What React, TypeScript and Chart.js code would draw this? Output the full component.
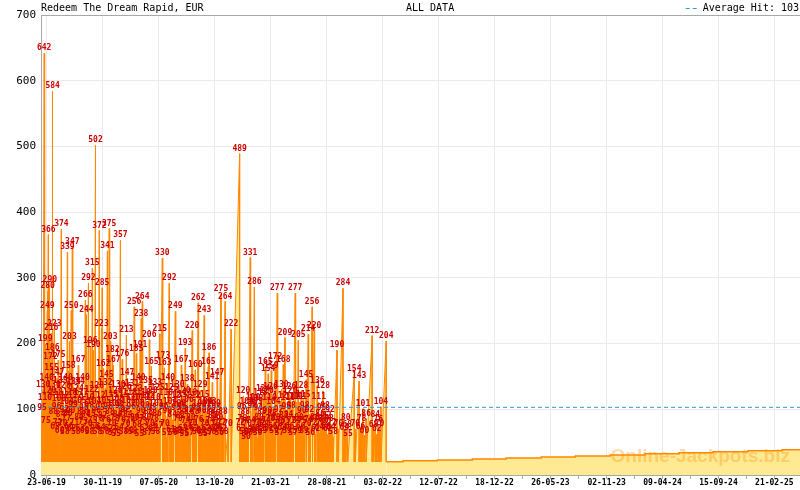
import React, { useEffect, useRef } from "react";
import { Chart, registerables } from "chart.js";

Chart.register(...registerables);

const title = "Redeem The Dream Rapid, EUR";
const period = "ALL DATA";
const averageHit = 103;
const seedValue = 20;

const tickLabels = [
  "23-06-19", "30-11-19", "07-05-20", "13-10-20", "21-03-21", "28-08-21", "03-02-22",
  "12-07-22", "18-12-22", "26-05-23", "02-11-23", "09-04-24", "15-09-24", "21-02-25",
];

// [days since 23-06-19, hit in EUR]
const hits2019: [number, number][] = [
  [-13, 95], [-10, 130], [-7, 642], [-5, 110], [-4, 199], [-2, 75], [0, 140], [2, 249], [3, 280], [5, 366],
  [7, 120], [9, 290], [11, 172], [13, 216], [14, 155], [16, 186], [17, 584], [19, 88], [20, 130], [22, 223],
  [24, 65], [26, 118], [28, 96], [30, 147], [31, 72], [33, 175], [35, 108], [37, 60], [39, 135], [40, 84],
  [42, 374], [44, 112], [46, 70], [48, 128], [50, 92], [52, 58], [54, 140], [56, 77], [57, 104], [59, 339],
  [60, 86], [62, 158], [63, 66], [65, 203], [67, 118], [68, 90], [70, 250], [71, 62], [73, 347], [75, 99],
  [77, 134], [79, 71], [81, 112], [83, 58], [85, 124], [88, 134], [90, 167], [92, 80], [94, 105], [96, 63],
  [98, 117], [100, 88], [102, 140], [104, 73], [106, 95], [108, 60], [110, 266], [111, 84], [113, 244], [115, 110],
  [117, 70], [119, 292], [121, 98], [122, 58], [124, 196], [126, 85], [128, 122], [130, 315], [131, 75], [133, 190],
  [135, 104], [137, 66], [139, 502], [141, 90], [143, 128], [145, 58], [147, 112], [148, 78], [150, 372], [152, 95],
  [154, 64], [156, 223], [158, 285], [159, 82], [161, 162], [163, 105], [165, 58], [167, 132], [169, 76], [170, 145],
  [173, 341], [175, 96], [176, 62], [178, 375], [180, 88], [181, 203], [183, 115], [185, 70], [187, 182], [188, 57],
  [190, 167],
];

const hits2020: [number, number][] = [
  [192, 100], [194, 78], [196, 120], [198, 55], [200, 108], [202, 84], [204, 130], [206, 64], [208, 98], [210, 357],
  [212, 76], [213, 115], [215, 176], [217, 88], [219, 58], [221, 126], [223, 92], [225, 70], [227, 213], [229, 147],
  [231, 84], [233, 105], [235, 60], [237, 118], [239, 74], [241, 96], [243, 131], [245, 58], [247, 110], [249, 256],
  [251, 80], [253, 123], [255, 185], [257, 68], [259, 100], [261, 140], [263, 77], [264, 55], [266, 191], [268, 90],
  [269, 238], [270, 110], [272, 264], [274, 73], [276, 118], [278, 62], [280, 98], [282, 135], [284, 80], [286, 57],
  [288, 112], [290, 88], [292, 206], [294, 70], [296, 120], [298, 165], [300, 95], [302, 62], [304, 110], [306, 78],
  [308, 133], [310, 58], [312, 101], [314, 86], [316, 125], [318, 67], [322, 215], [329, 330], [331, 173], [333, 96],
  [335, 163], [337, 70], [339, 118], [341, 57], [343, 90], [345, 140], [349, 292], [351, 104], [353, 61], [355, 125],
  [357, 84], [359, 56], [361, 112], [366, 249], [368, 95], [370, 60], [372, 130], [374, 78], [376, 100], [378, 58],
  [380, 115], [381, 82], [383, 167], [385, 96], [387, 63], [389, 120], [391, 88], [392, 55], [394, 193], [396, 74],
  [398, 106], [400, 138], [402, 66], [404, 92], [406, 57], [408, 118], [410, 80], [414, 220], [416, 70], [418, 112],
  [420, 62], [421, 88], [423, 160], [425, 95], [427, 58], [431, 262], [433, 76], [435, 100], [437, 129], [439, 60],
  [441, 90], [443, 115], [445, 55], [448, 243], [450, 70], [452, 104], [454, 62], [456, 95], [458, 57], [460, 165],
  [462, 186], [463, 103], [465, 74], [467, 88], [469, 58], [471, 141], [473, 82], [475, 100], [477, 62], [479, 86],
  [481, 70], [483, 95], [485, 147], [487, 64], [489, 80], [491, 56], [496, 275], [498, 72], [500, 62], [502, 88],
  [504, 58], [508, 264], [516, 70], [525, 222], [549, 489], [551, 72], [553, 63], [555, 96], [557, 78],
];

const hits2021: [number, number][] = [
  [559, 120], [561, 58], [563, 74], [565, 88], [567, 50], [569, 104], [571, 70], [573, 56], [579, 331], [581, 74],
  [583, 60], [585, 98], [587, 110], [591, 286], [593, 62], [594, 103], [596, 108], [598, 70], [600, 56], [602, 94],
  [604, 80], [606, 62], [608, 118], [610, 72], [612, 88], [614, 59], [616, 124], [618, 68], [622, 165], [624, 74],
  [626, 120], [628, 90], [630, 154], [632, 62], [634, 110], [636, 78], [637, 126], [639, 159], [641, 85], [643, 66],
  [645, 104], [647, 59], [650, 172], [652, 80], [656, 277], [658, 70], [660, 92], [662, 57], [664, 112], [666, 75],
  [668, 130], [670, 64], [673, 168], [675, 82], [678, 209], [680, 71], [682, 96], [684, 59], [686, 110], [688, 84],
  [690, 126], [691, 66], [693, 120], [695, 98], [697, 75], [699, 111], [701, 57], [707, 277], [709, 74], [711, 111],
  [713, 59], [716, 205], [718, 80], [720, 111], [722, 66], [724, 128], [726, 90], [728, 75], [730, 115], [732, 59],
  [734, 98], [738, 145], [740, 70], [744, 214], [746, 76], [748, 92], [750, 56], [755, 256], [757, 72], [761, 220],
  [763, 80], [765, 62], [770, 136], [772, 78], [774, 111], [776, 64], [778, 86], [780, 72], [782, 95], [786, 128],
  [788, 76], [790, 72], [792, 98], [795, 66], [797, 82], [800, 62], [803, 78], [806, 92], [809, 64], [812, 72],
  [815, 58], [826, 190], [830, 70], [843, 284], [847, 64], [851, 80], [855, 68], [857, 55], [875, 154], [878, 70],
  [889, 143], [893, 66], [896, 78], [900, 101], [904, 60], [909, 86],
];

const hits2022: [number, number][] = [
  [926, 212], [930, 68], [935, 84], [939, 62], [943, 76], [947, 70], [951, 104], [966, 204],
];

// slow growth after the last hit
const tailDays = [1014, 1111, 1211, 1307, 1407, 1504, 1603, 1702, 1799, 1896, 1995, 2092];
const tailValues = [21.5, 23, 24.5, 26, 27.5, 29, 30.5, 32.5, 34, 35.5, 37, 38.5];

const xMin = -16;
const xMax = 2143;

const MONO = '"DejaVu Sans Mono", monospace';

const dayOf = (s: string) => {
  const [d, m, y] = s.split("-").map(Number);
  return Date.UTC(2000 + y, m - 1, d);
};
const day0 = dayOf(tickLabels[0]);
const tickDays = tickLabels.map((s) => Math.round((dayOf(s) - day0) / 86400000));

// major ticks carry labels, a minor one sits half way
const tickValues: number[] = [];
tickDays.forEach((d, i) => {
  tickValues.push(d);
  if (i < tickDays.length - 1) tickValues.push((d + tickDays[i + 1]) / 2);
});

const hits = [...hits2019, ...hits2020, ...hits2021, ...hits2022];

const overlayPlugin = {
  id: "overlay",
  // labels go on right after the jackpot line, so the average line stays on top
  // eslint-disable-next-line @typescript-eslint/no-explicit-any
  afterDatasetDraw(chart: any, args: any) {
    if (args.index !== 1) return;
    const { ctx, scales } = chart;
    const xs = scales.x;
    const ys = scales.y;
    ctx.save();
    ctx.font = `bold 8px ${MONO}`;
    ctx.fillStyle = "#CC0000";
    ctx.textAlign = "center";
    ctx.textBaseline = "bottom";
    hits.forEach(([d, v]) => {
      ctx.fillText(String(v), xs.getPixelForValue(d), ys.getPixelForValue(v) - 1);
    });
    ctx.restore();
  },
  // eslint-disable-next-line @typescript-eslint/no-explicit-any
  afterDatasetsDraw(chart: any) {
    const { ctx, chartArea } = chart;
    ctx.save();

    // watermark
    ctx.font = 'bold 19px "Liberation Sans", Arial, sans-serif';
    ctx.fillStyle = "rgba(255, 140, 0, 0.33)";
    ctx.textAlign = "right";
    ctx.textBaseline = "alphabetic";
    ctx.fillText("Online-Jackpots.biz", 790, 461.5);

    // top border
    ctx.strokeStyle = "#A8A8A8";
    ctx.lineWidth = 1;
    ctx.beginPath();
    ctx.moveTo(chartArea.left, chartArea.top + 0.5);
    ctx.lineTo(chartArea.right, chartArea.top + 0.5);
    ctx.stroke();
    ctx.restore();
  },
  // eslint-disable-next-line @typescript-eslint/no-explicit-any
  afterDraw(chart: any) {
    const { ctx, chartArea } = chart;
    ctx.save();
    ctx.font = `10px ${MONO}`;
    ctx.fillStyle = "#000";
    ctx.textBaseline = "middle";
    ctx.textAlign = "left";
    ctx.fillText(title, chartArea.left, 8);
    ctx.fillText(period, 406, 8);

    const legendText = `Average Hit: ${averageHit}`;
    ctx.textAlign = "right";
    ctx.fillText(legendText, 799, 8);
    const start = 799 - ctx.measureText(legendText).width;
    ctx.strokeStyle = "#2E9AD6";
    ctx.setLineDash([4, 3]);
    ctx.beginPath();
    ctx.moveTo(start - 17, 8.5);
    ctx.lineTo(start - 3, 8.5);
    ctx.stroke();
    ctx.restore();
  },
};

const JackpotChart = () => {
  const chartRef = useRef<HTMLCanvasElement>(null);
  const chartInstanceRef = useRef<Chart | null>(null);

  useEffect(() => {
    if (!chartRef.current) return;
    const ctx = chartRef.current.getContext("2d");
    if (!ctx) return;

    if (chartInstanceRef.current) {
      chartInstanceRef.current.destroy();
    }

    const mainPoints: { x: number; y: number }[] = [{ x: xMin, y: seedValue }];
    hits.forEach(([d, v]) => {
      mainPoints.push({ x: d, y: v }, { x: d, y: seedValue });
    });

    const lastHit = hits[hits.length - 1][0];
    const tailPoints = [
      { x: lastHit, y: seedValue },
      ...tailDays.map((d, i) => ({ x: d, y: tailValues[i] })),
      { x: xMax, y: tailValues[tailValues.length - 1] },
    ];

    chartInstanceRef.current = new Chart(ctx, {
      type: "line",
      data: {
        datasets: [
          {
            label: "Average Hit",
            data: [
              { x: xMin, y: averageHit },
              { x: xMax, y: averageHit },
            ],
            borderColor: "#2E9AD6",
            borderWidth: 1,
            borderDash: [4, 3],
            pointRadius: 0,
            fill: false,
          },
          {
            label: "Jackpot",
            data: mainPoints,
            borderColor: "#FF8800",
            backgroundColor: "#FFEA94",
            borderWidth: 1,
            pointRadius: 0,
            tension: 0,
            fill: "origin",
          },
          {
            label: "Jackpot tail",
            data: tailPoints,
            borderColor: "#FF8800",
            backgroundColor: "#FFEA94",
            borderWidth: 1.5,
            pointRadius: 0,
            stepped: true,
            fill: "origin",
          },
        ],
      },
      options: {
        responsive: false,
        animation: false,
        events: [],
        layout: { padding: { top: 15, right: 0, left: 0, bottom: 0 } },
        plugins: {
          legend: { display: false },
          tooltip: { enabled: false },
        },
        scales: {
          x: {
            type: "linear",
            min: xMin,
            max: xMax,
            // eslint-disable-next-line @typescript-eslint/no-explicit-any
            afterBuildTicks: (scale: any) => {
              scale.ticks = tickValues.map((value) => ({ value }));
            },
            // eslint-disable-next-line @typescript-eslint/no-explicit-any
            afterFit: (scale: any) => {
              scale.height = 15;
            },
            ticks: {
              autoSkip: false,
              maxRotation: 0,
              padding: -1,
              color: "#000",
              font: { family: MONO, size: 8, weight: "bold" },
              callback: (_value, index) => (index % 2 === 0 ? tickLabels[index / 2] : ""),
            },
            grid: {
              color: (c) => (c.index % 2 === 0 ? "#EBEBEB" : "rgba(0,0,0,0)"),
              tickColor: "#AAAAAA",
              tickLength: 4,
            },
            border: { color: "#A8A8A8" },
          },
          y: {
            min: 0,
            max: 700,
            // eslint-disable-next-line @typescript-eslint/no-explicit-any
            afterFit: (scale: any) => {
              scale.width = 41;
            },
            ticks: {
              stepSize: 100,
              padding: 5,
              color: "#000",
              font: { family: MONO, size: 11 },
            },
            grid: { color: "#EBEBEB", drawTicks: false },
            border: { color: "#A8A8A8" },
          },
        },
      },
      plugins: [overlayPlugin],
    });

    return () => {
      if (chartInstanceRef.current) {
        chartInstanceRef.current.destroy();
        chartInstanceRef.current = null;
      }
    };
  }, []);

  return (
    <div style={{ position: "absolute", left: 0, top: 0, width: "800px", height: "490px", background: "#fff" }}>
      <canvas ref={chartRef} width={800} height={490} />
    </div>
  );
};

export default function App() {
  return <JackpotChart />;
}
